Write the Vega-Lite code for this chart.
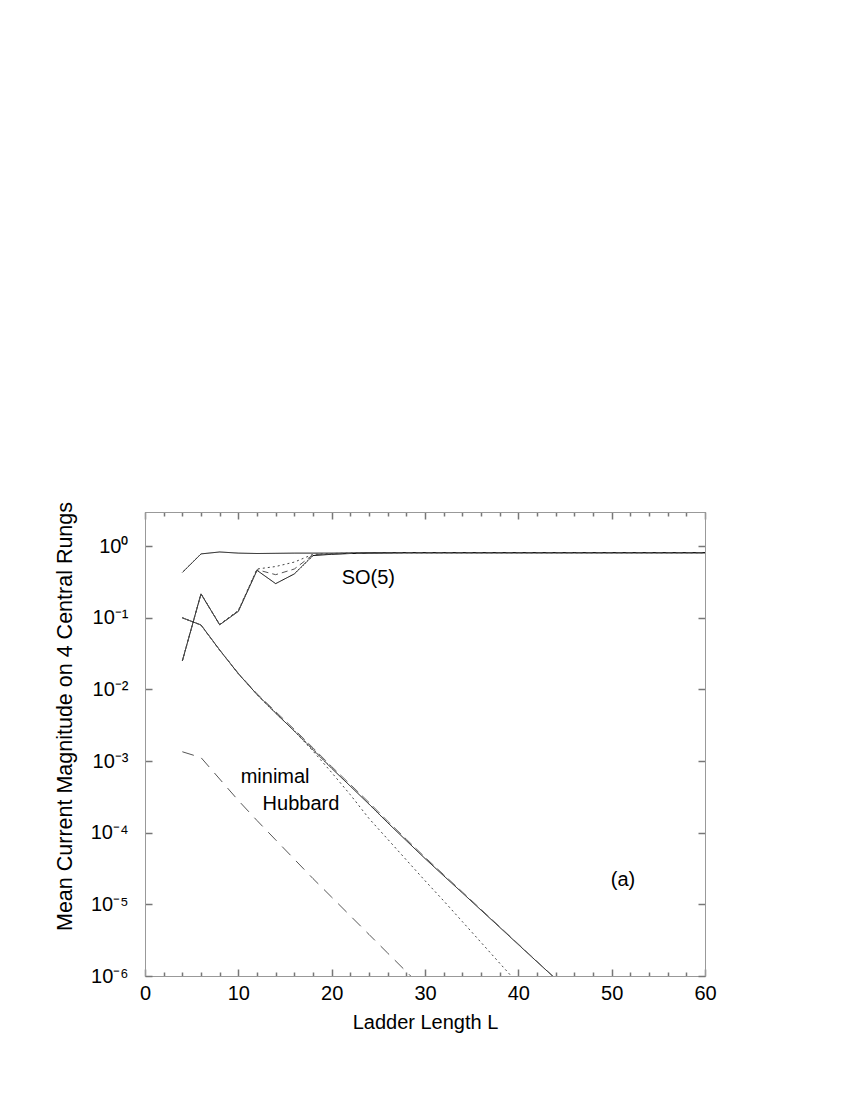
{
  "$schema": "https://vega.github.io/schema/vega-lite/v6.json",
  "width": 560,
  "height": 464,
  "autosize": "none",
  "padding": {"left": 145, "top": 512, "right": 145, "bottom": 124},
  "background": "white",
  "config": {
    "font": "Liberation Sans",
    "view": {"stroke": "#999", "strokeWidth": 1},
    "axis": {
      "grid": false,
      "ticks": true,
      "domainColor": "#999",
      "tickColor": "#777",
      "tickWidth": 1.5,
      "labelFont": "Liberation Sans",
      "labelFontSize": 20,
      "labelColor": "#000",
      "titleFont": "Liberation Sans",
      "titleFontSize": 20,
      "titleFontWeight": "normal",
      "titleColor": "#000",
      "labelFlush": false,
      "labelOverlap": false,
      "labelBound": false
    }
  },
  "datasets": {
    "curves": [
      {"s": "so5a", "L": 4, "M": 0.43}, {"s": "so5a", "L": 6, "M": 0.78}, {"s": "so5a", "L": 8, "M": 0.83}, {"s": "so5a", "L": 10, "M": 0.8}, {"s": "so5a", "L": 12, "M": 0.79}, {"s": "so5a", "L": 14, "M": 0.795}, {"s": "so5a", "L": 16, "M": 0.8}, {"s": "so5a", "L": 18, "M": 0.8}, {"s": "so5a", "L": 20, "M": 0.8}, {"s": "so5a", "L": 22, "M": 0.805}, {"s": "so5a", "L": 24, "M": 0.81}, {"s": "so5a", "L": 26, "M": 0.81}, {"s": "so5a", "L": 28, "M": 0.81}, {"s": "so5a", "L": 30, "M": 0.81}, {"s": "so5a", "L": 32, "M": 0.81}, {"s": "so5a", "L": 34, "M": 0.81}, {"s": "so5a", "L": 36, "M": 0.81}, {"s": "so5a", "L": 38, "M": 0.81}, {"s": "so5a", "L": 40, "M": 0.81}, {"s": "so5a", "L": 42, "M": 0.81}, {"s": "so5a", "L": 44, "M": 0.81}, {"s": "so5a", "L": 46, "M": 0.81}, {"s": "so5a", "L": 48, "M": 0.81}, {"s": "so5a", "L": 50, "M": 0.81}, {"s": "so5a", "L": 52, "M": 0.81}, {"s": "so5a", "L": 54, "M": 0.81}, {"s": "so5a", "L": 56, "M": 0.81}, {"s": "so5a", "L": 58, "M": 0.81}, {"s": "so5a", "L": 60, "M": 0.81},

      {"s": "so5b", "L": 4, "M": 0.025}, {"s": "so5b", "L": 6, "M": 0.216}, {"s": "so5b", "L": 8, "M": 0.08}, {"s": "so5b", "L": 10, "M": 0.123}, {"s": "so5b", "L": 12, "M": 0.46}, {"s": "so5b", "L": 14, "M": 0.3}, {"s": "so5b", "L": 16, "M": 0.41}, {"s": "so5b", "L": 18, "M": 0.74}, {"s": "so5b", "L": 20, "M": 0.77}, {"s": "so5b", "L": 22, "M": 0.79}, {"s": "so5b", "L": 24, "M": 0.8}, {"s": "so5b", "L": 26, "M": 0.805}, {"s": "so5b", "L": 28, "M": 0.81}, {"s": "so5b", "L": 30, "M": 0.81}, {"s": "so5b", "L": 32, "M": 0.81}, {"s": "so5b", "L": 34, "M": 0.81}, {"s": "so5b", "L": 36, "M": 0.81}, {"s": "so5b", "L": 38, "M": 0.81}, {"s": "so5b", "L": 40, "M": 0.81}, {"s": "so5b", "L": 42, "M": 0.81}, {"s": "so5b", "L": 44, "M": 0.81}, {"s": "so5b", "L": 46, "M": 0.81}, {"s": "so5b", "L": 48, "M": 0.81}, {"s": "so5b", "L": 50, "M": 0.81}, {"s": "so5b", "L": 52, "M": 0.81}, {"s": "so5b", "L": 54, "M": 0.81}, {"s": "so5b", "L": 56, "M": 0.81}, {"s": "so5b", "L": 58, "M": 0.81}, {"s": "so5b", "L": 60, "M": 0.81},

      {"s": "so5c", "L": 4, "M": 0.025}, {"s": "so5c", "L": 6, "M": 0.216}, {"s": "so5c", "L": 8, "M": 0.08}, {"s": "so5c", "L": 10, "M": 0.125}, {"s": "so5c", "L": 12, "M": 0.47}, {"s": "so5c", "L": 14, "M": 0.4}, {"s": "so5c", "L": 16, "M": 0.48}, {"s": "so5c", "L": 18, "M": 0.76}, {"s": "so5c", "L": 20, "M": 0.78}, {"s": "so5c", "L": 22, "M": 0.795}, {"s": "so5c", "L": 24, "M": 0.8}, {"s": "so5c", "L": 26, "M": 0.805}, {"s": "so5c", "L": 28, "M": 0.81}, {"s": "so5c", "L": 30, "M": 0.81}, {"s": "so5c", "L": 32, "M": 0.81}, {"s": "so5c", "L": 34, "M": 0.81}, {"s": "so5c", "L": 36, "M": 0.81}, {"s": "so5c", "L": 38, "M": 0.81}, {"s": "so5c", "L": 40, "M": 0.81}, {"s": "so5c", "L": 42, "M": 0.81}, {"s": "so5c", "L": 44, "M": 0.81}, {"s": "so5c", "L": 46, "M": 0.81}, {"s": "so5c", "L": 48, "M": 0.81}, {"s": "so5c", "L": 50, "M": 0.81}, {"s": "so5c", "L": 52, "M": 0.81}, {"s": "so5c", "L": 54, "M": 0.81}, {"s": "so5c", "L": 56, "M": 0.81}, {"s": "so5c", "L": 58, "M": 0.81}, {"s": "so5c", "L": 60, "M": 0.81},

      {"s": "so5d", "L": 4, "M": 0.025}, {"s": "so5d", "L": 6, "M": 0.216}, {"s": "so5d", "L": 8, "M": 0.081}, {"s": "so5d", "L": 10, "M": 0.127}, {"s": "so5d", "L": 12, "M": 0.48}, {"s": "so5d", "L": 14, "M": 0.52}, {"s": "so5d", "L": 16, "M": 0.6}, {"s": "so5d", "L": 18, "M": 0.77}, {"s": "so5d", "L": 20, "M": 0.79}, {"s": "so5d", "L": 22, "M": 0.8}, {"s": "so5d", "L": 24, "M": 0.805}, {"s": "so5d", "L": 26, "M": 0.81}, {"s": "so5d", "L": 28, "M": 0.81}, {"s": "so5d", "L": 30, "M": 0.81}, {"s": "so5d", "L": 32, "M": 0.81}, {"s": "so5d", "L": 34, "M": 0.81}, {"s": "so5d", "L": 36, "M": 0.81}, {"s": "so5d", "L": 38, "M": 0.81}, {"s": "so5d", "L": 40, "M": 0.81}, {"s": "so5d", "L": 42, "M": 0.81}, {"s": "so5d", "L": 44, "M": 0.81}, {"s": "so5d", "L": 46, "M": 0.81}, {"s": "so5d", "L": 48, "M": 0.81}, {"s": "so5d", "L": 50, "M": 0.81}, {"s": "so5d", "L": 52, "M": 0.81}, {"s": "so5d", "L": 54, "M": 0.81}, {"s": "so5d", "L": 56, "M": 0.81}, {"s": "so5d", "L": 58, "M": 0.81}, {"s": "so5d", "L": 60, "M": 0.81},

      {"s": "hubA", "L": 4, "M": 0.1}, {"s": "hubA", "L": 6, "M": 0.0794}, {"s": "hubA", "L": 8, "M": 0.0355}, {"s": "hubA", "L": 10, "M": 0.0166}, {"s": "hubA", "L": 12, "M": 0.00851}, {"s": "hubA", "L": 14, "M": 0.00468}, {"s": "hubA", "L": 16, "M": 0.00263}, {"s": "hubA", "L": 18, "M": 0.00145}, {"s": "hubA", "L": 20, "M": 0.000794}, {"s": "hubA", "L": 22, "M": 0.000447}, {"s": "hubA", "L": 24, "M": 0.000251}, {"s": "hubA", "L": 26, "M": 0.000138}, {"s": "hubA", "L": 28, "M": 0.0000776}, {"s": "hubA", "L": 30, "M": 0.0000437}, {"s": "hubA", "L": 32, "M": 0.0000251}, {"s": "hubA", "L": 34, "M": 0.0000145}, {"s": "hubA", "L": 36, "M": 0.00000832}, {"s": "hubA", "L": 38, "M": 0.00000479}, {"s": "hubA", "L": 40, "M": 0.00000275}, {"s": "hubA", "L": 42, "M": 0.00000158}, {"s": "hubA", "L": 44, "M": 0.000000912},

      {"s": "hubB", "L": 4, "M": 0.1}, {"s": "hubB", "L": 6, "M": 0.0794}, {"s": "hubB", "L": 8, "M": 0.0356}, {"s": "hubB", "L": 10, "M": 0.0168}, {"s": "hubB", "L": 12, "M": 0.0087}, {"s": "hubB", "L": 14, "M": 0.0049}, {"s": "hubB", "L": 16, "M": 0.00277}, {"s": "hubB", "L": 18, "M": 0.00153}, {"s": "hubB", "L": 20, "M": 0.000838}, {"s": "hubB", "L": 22, "M": 0.000472}, {"s": "hubB", "L": 24, "M": 0.000265}, {"s": "hubB", "L": 26, "M": 0.000145}, {"s": "hubB", "L": 28, "M": 0.0000812}, {"s": "hubB", "L": 30, "M": 0.0000455}, {"s": "hubB", "L": 32, "M": 0.000026}, {"s": "hubB", "L": 34, "M": 0.0000149}, {"s": "hubB", "L": 36, "M": 0.00000853}, {"s": "hubB", "L": 38, "M": 0.00000488}, {"s": "hubB", "L": 40, "M": 0.00000279}, {"s": "hubB", "L": 42, "M": 0.0000016}, {"s": "hubB", "L": 44, "M": 0.000000915},

      {"s": "hubC", "L": 4, "M": 0.1}, {"s": "hubC", "L": 6, "M": 0.0794}, {"s": "hubC", "L": 8, "M": 0.0355}, {"s": "hubC", "L": 10, "M": 0.0166}, {"s": "hubC", "L": 12, "M": 0.0085}, {"s": "hubC", "L": 14, "M": 0.00468}, {"s": "hubC", "L": 16, "M": 0.00263}, {"s": "hubC", "L": 18, "M": 0.00138}, {"s": "hubC", "L": 20, "M": 0.000692}, {"s": "hubC", "L": 22, "M": 0.000339}, {"s": "hubC", "L": 24, "M": 0.000158}, {"s": "hubC", "L": 26, "M": 0.0000813}, {"s": "hubC", "L": 28, "M": 0.0000417}, {"s": "hubC", "L": 30, "M": 0.0000214}, {"s": "hubC", "L": 32, "M": 0.0000112}, {"s": "hubC", "L": 34, "M": 0.00000575}, {"s": "hubC", "L": 36, "M": 0.00000295}, {"s": "hubC", "L": 38, "M": 0.00000151}, {"s": "hubC", "L": 40, "M": 0.000000776},

      {"s": "minH", "L": 4, "M": 0.00135}, {"s": "minH", "L": 6, "M": 0.00112}, {"s": "minH", "L": 8, "M": 0.000562}, {"s": "minH", "L": 10, "M": 0.000282}, {"s": "minH", "L": 12, "M": 0.000148}, {"s": "minH", "L": 14, "M": 0.0000794}, {"s": "minH", "L": 16, "M": 0.0000427}, {"s": "minH", "L": 18, "M": 0.0000229}, {"s": "minH", "L": 20, "M": 0.0000126}, {"s": "minH", "L": 22, "M": 0.00000692}, {"s": "minH", "L": 24, "M": 0.0000038}, {"s": "minH", "L": 26, "M": 0.00000209}, {"s": "minH", "L": 28, "M": 0.00000115}, {"s": "minH", "L": 30, "M": 0.000000631}
    ],
    "labels": [
      {"L": 21.07, "M": 0.36, "text": "SO(5)"},
      {"L": 10.25, "M": 0.0006, "text": "minimal"},
      {"L": 12.6, "M": 0.00025, "text": "Hubbard"},
      {"L": 49.9, "M": 0.000022, "text": "(a)"}
    ]
  },
  "layer": [
    {
      "data": {"name": "curves"},
      "mark": {"type": "line", "clip": true, "strokeWidth": 1},
      "encoding": {
        "x": {
          "field": "L", "type": "quantitative",
          "scale": {"domain": [0, 60], "nice": false, "zero": false},
          "axis": {
            "orient": "bottom",
            "title": "Ladder Length L",
            "values": [0, 2, 4, 6, 8, 10, 12, 14, 16, 18, 20, 22, 24, 26, 28, 30, 32, 34, 36, 38, 40, 42, 44, 46, 48, 50, 52, 54, 56, 58, 60],
            "labelExpr": "datum.value % 10 === 0 ? datum.label : ''",
            "tickSize": {"condition": {"test": "datum.value % 10 === 0", "value": -7}, "value": -4},
            "labelPadding": 14,
            "titlePadding": 6
          }
        },
        "y": {
          "field": "M", "type": "quantitative",
          "scale": {"type": "log", "domain": [0.000001, 3], "nice": false},
          "axis": {
            "orient": "left",
            "title": "Mean Current Magnitude on 4 Central Rungs",
            "titleFontSize": 21.5,
            "titleY": 204,
            "values": [0.000001, 0.00001, 0.0001, 0.001, 0.01, 0.1, 1],
            "labelExpr": "datum.value > 0.5 ? '10⁰' : datum.value > 0.05 ? '10⁻¹' : datum.value > 0.005 ? '10⁻²' : datum.value > 0.0005 ? '10⁻³' : datum.value > 0.00005 ? '10⁻⁴' : datum.value > 0.000005 ? '10⁻⁵' : '10⁻⁶'",
            "tickSize": -7,
            "labelPadding": 24,
            "titlePadding": 14
          }
        },
        "color": {
          "field": "s", "type": "nominal", "legend": null,
          "scale": {"domain": ["so5a", "so5b", "so5c", "so5d", "hubA", "hubB", "hubC", "minH"],
                    "range": ["#000000", "#000000", "#555555", "#444444", "#000000", "#666666", "#444444", "#555555"]}
        },
        "strokeDash": {
          "field": "s", "type": "nominal", "legend": null,
          "scale": {"domain": ["so5a", "so5b", "so5c", "so5d", "hubA", "hubB", "hubC", "minH"],
                    "range": [[1, 0], [1, 0], [6, 4], [2, 3], [1, 0], [10, 5], [2, 3], [12, 8]]}
        }
      }
    },
    {
      "data": {"name": "labels"},
      "mark": {"type": "text", "align": "left", "baseline": "middle", "font": "Liberation Sans", "fontSize": 20, "color": "#000"},
      "encoding": {
        "x": {
          "field": "L", "type": "quantitative",
          "axis": {
            "orient": "top", "title": null, "labels": false,
            "values": [0, 2, 4, 6, 8, 10, 12, 14, 16, 18, 20, 22, 24, 26, 28, 30, 32, 34, 36, 38, 40, 42, 44, 46, 48, 50, 52, 54, 56, 58, 60],
            "tickSize": {"condition": {"test": "datum.value % 10 === 0", "value": -7}, "value": -4}
          }
        },
        "y": {
          "field": "M", "type": "quantitative",
          "axis": {
            "orient": "right", "title": null, "labels": false,
            "values": [0.000001, 0.00001, 0.0001, 0.001, 0.01, 0.1, 1],
            "tickSize": -7
          }
        },
        "text": {"field": "text", "type": "nominal"}
      }
    }
  ],
  "resolve": {"axis": {"x": "independent", "y": "independent"}}
}
